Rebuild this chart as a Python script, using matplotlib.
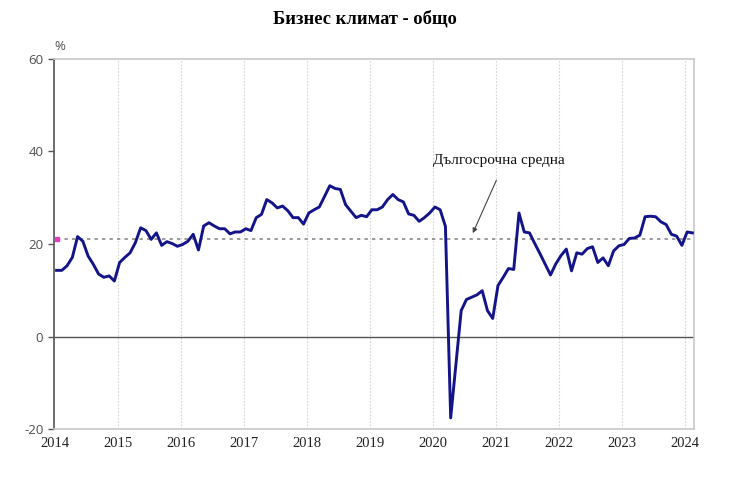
import matplotlib
matplotlib.use("Agg")
import matplotlib.pyplot as plt
import numpy as np

title = "Бизнес климат - общо"
unit_label = "%"
annotation_text = "Дългосрочна средна"
long_term_avg = 21.0

years = list(range(2014, 2025))
values = [
    # 2014
    14.3, 14.3, 15.3, 17.1, 21.6, 20.6, 17.4, 15.6, 13.5, 12.8, 13.1, 12.0,
    # 2015
    16.0, 17.1, 18.1, 20.3, 23.5, 22.9, 21.0, 22.4, 19.7, 20.5, 20.1, 19.5,
    # 2016
    19.9, 20.6, 22.1, 18.7, 23.9, 24.6, 23.9, 23.3, 23.3, 22.2, 22.6, 22.6,
    # 2017
    23.3, 22.9, 25.7, 26.4, 29.6, 28.9, 27.8, 28.2, 27.2, 25.7, 25.7, 24.3,
    # 2018
    26.7, 27.4, 28.0, 30.3, 32.6, 32.0, 31.8, 28.5, 27.1, 25.7, 26.2, 25.9,
    # 2019
    27.4, 27.4, 28.0, 29.6, 30.7, 29.6, 29.1, 26.5, 26.2, 24.9, 25.7, 26.7,
    # 2020
    28.0, 27.4, 23.8, -17.6, -6.0, 5.6, 8.0, 8.5, 9.0, 9.9, 5.6, 3.9,
    # 2021
    11.0, 12.8, 14.7, 14.5, 26.7, 22.6, 22.4, 20.1, 17.9, 15.6, 13.3, 15.7,
    # 2022
    17.5, 18.9, 14.2, 18.1, 17.8, 19.0, 19.4, 16.0, 17.0, 15.3, 18.5, 19.6,
    # 2023
    19.9, 21.2, 21.3, 21.9, 25.9, 26.0, 25.9, 24.8, 24.2, 22.1, 21.7, 19.7,
    # 2024
    22.6, 22.4,
]
y_ticks = [-20, 0, 20, 40, 60]

months = np.arange(len(values))

fig = plt.figure(figsize=(7.4, 4.78), dpi=100)
ax = fig.add_axes([0.0736, 0.1025, 0.9378 - 0.0736, 0.8766 - 0.1025])

tick_pos = [12 * (y - 2014) - 0.4 for y in years]
ax.set_xlim(-0.4, 121.3)
ax.set_ylim(-20, 60)

# vertical gridlines
for tp in tick_pos[1:]:
    ax.axvline(tp, color="#d4d4d4", lw=0.8, ls=(0, (1.5, 1.5)), zorder=1)

# zero line
ax.axhline(0, color="#555555", lw=1.0, zorder=2)

# long-term average
ax.plot([months[0], months[-1]], [long_term_avg, long_term_avg], color="#8a8a8a",
        lw=1.2, ls=(0, (2, 2.5)), zorder=2)
ax.plot([months[0]], [long_term_avg], marker="s", ms=3, color="#e040c0", zorder=3,
        clip_on=False)

# main line
ax.plot(months, values, color="#14148a", lw=2.1, zorder=4, solid_joinstyle="round")

ax.set_xticks(tick_pos)
ax.set_xticklabels([str(y) for y in years], family="Liberation Serif", fontsize=10.5,
                   color="#222222")
ax.set_yticks(y_ticks)
ax.set_yticklabels([str(v) for v in y_ticks], family="Open Sans", fontsize=9.5,
                   color="#505050")
ax.tick_params(axis="x", length=0, pad=6)
ax.tick_params(axis="y", length=4, width=1, color="#555555", pad=4, direction="out")

for s in ["top", "right", "bottom"]:
    ax.spines[s].set_color("#c8c8c8")
    ax.spines[s].set_linewidth(1.2)
ax.spines["left"].set_color("#555555")
ax.spines["left"].set_linewidth(1.2)

fig.text(0.074, 0.903, unit_label, family="Open Sans", fontsize=9.5, color="#505050",
         ha="left", va="center")
fig.text(0.493, 0.960, title, family="Liberation Serif", fontsize=13.3, fontweight="bold",
         ha="center", va="center")

ax.annotate("", xy=(79.0, 21.8), xytext=(83.9, 34.3),
            arrowprops=dict(arrowstyle="-|>", color="#444444", lw=0.8,
                            mutation_scale=7))
ax.text(84.1, 38.0, annotation_text, family="Liberation Serif", fontsize=11,
        ha="center", va="center", color="#111111")

fig.savefig("out.png", dpi=100)
